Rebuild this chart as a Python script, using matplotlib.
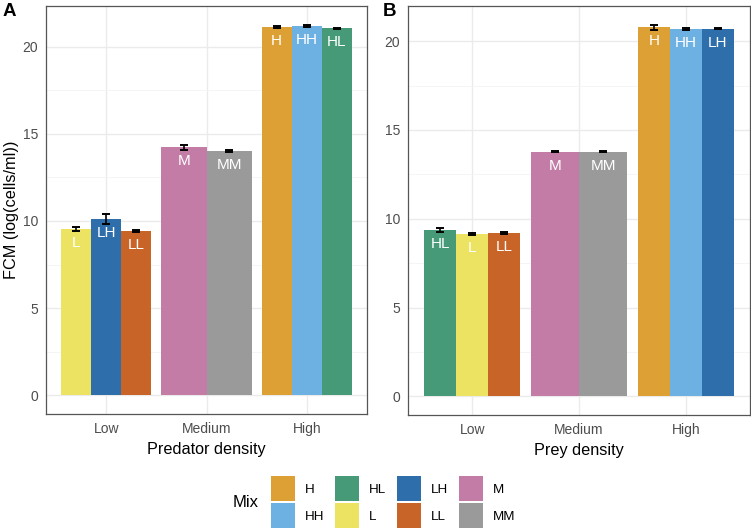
import numpy as np
import matplotlib.pyplot as plt
from matplotlib.patches import Patch

plt.rcParams['font.family'] = ['Liberation Sans', 'DejaVu Sans']

density = ['Low', 'Medium', 'High']

# panel A: predator density
mix_a = [['L', 'LH', 'LL'], ['M', 'MM'], ['H', 'HH', 'HL']]
val_a = [[9.55, 10.10, 9.42], [14.22, 14.02], [21.13, 21.20, 21.04]]
err_a = [[0.12, 0.30, 0.05], [0.13, 0.07], [0.05, 0.06, 0.04]]

# panel B: prey density
mix_b = [['HL', 'L', 'LL'], ['M', 'MM'], ['H', 'HH', 'LH']]
val_b = [[9.37, 9.15, 9.21], [13.76, 13.76], [20.78, 20.68, 20.69]]
err_b = [[0.10, 0.04, 0.06], [0.03, 0.03], [0.15, 0.03, 0.03]]

legend_order = ['H', 'HH', 'HL', 'L', 'LH', 'LL', 'M', 'MM']
colors = {
    'H': '#DDA035', 'HH': '#6CB1E2', 'HL': '#469A77', 'L': '#EDE362',
    'LH': '#2E6EAB', 'LL': '#C86428', 'M': '#C27CA5', 'MM': '#9A9A9A',
}


def panel(ax, mixes, vals, errs, xlabel, ylabel=None):
    width = 0.9
    top = 0
    for i, (ms, vs, es) in enumerate(zip(mixes, vals, errs)):
        n = len(ms)
        w = width / n
        for j, (m, v, e) in enumerate(zip(ms, vs, es)):
            x = i + 1 - width / 2 + w * (j + 0.5)
            ax.bar(x, v, width=w, color=colors[m], zorder=2)
            ax.errorbar(x, v, yerr=e, color='black', capsize=2.7, lw=1.2,
                        capthick=1.4, zorder=3)
            ax.annotate(m, (x, v), xytext=(0, -5.0), textcoords='offset points',
                        ha='center', va='top', color='white', fontsize=11,
                        zorder=4)
            top = max(top, v + e)
    ax.set_xlim(0.4, 3.6)
    ax.set_ylim(-0.05 * top, top * 1.05)
    ax.set_xticks([1, 2, 3])
    ax.set_xticklabels(density)
    ax.set_yticks([0, 5, 10, 15, 20])
    ax.set_yticks([2.5, 7.5, 12.5, 17.5], minor=True)
    ax.grid(True, which='major', color='#EBEBEB', lw=1.0, zorder=0)
    ax.grid(True, which='minor', axis='y', color='#F4F4F4', lw=0.6, zorder=0)
    ax.set_axisbelow(True)
    ax.tick_params(which='major', labelcolor='#4D4D4D', labelsize=10,
                   length=0)
    ax.tick_params(axis='x', pad=5.6)
    ax.tick_params(axis='y', pad=5.8)
    ax.tick_params(which='minor', length=0)
    for s in ax.spines.values():
        s.set_color('#555555')
        s.set_linewidth(0.9)
    ax.set_xlabel(xlabel, fontsize=11.7, labelpad=4.5)
    if ylabel:
        ax.set_ylabel(ylabel, fontsize=11.7)
        ax.yaxis.set_label_coords(-0.084, 0.5)


fig = plt.figure(figsize=(7.51, 5.30), dpi=100)
ax_a = fig.add_axes([0.0613, 0.2189, 0.4274, 0.7698])
ax_b = fig.add_axes([0.5433, 0.2170, 0.4554, 0.7717])

panel(ax_a, mix_a, val_a, err_a, 'Predator density', 'FCM (log(cells/ml))')
panel(ax_b, mix_b, val_b, err_b, 'Prey density')

fig.text(0.004, 0.995, 'A', fontsize=13.5, fontweight='bold', va='top')
fig.text(0.510, 0.995, 'B', fontsize=13.5, fontweight='bold', va='top')

handles = [Patch(facecolor=colors[m], label=m) for m in legend_order]
fig.legend(handles=handles, ncol=4, loc='upper left',
           bbox_to_anchor=(0.3609, 0.1019), frameon=False, fontsize=9.6,
           handlelength=1.8, handleheight=2.55, handletextpad=0.75,
           columnspacing=0.8, labelspacing=0.12, borderaxespad=0,
           borderpad=0)
fig.text(0.310, 0.051, 'Mix', fontsize=12, va='center', ha='left')

fig.savefig('out.png', dpi=100)
